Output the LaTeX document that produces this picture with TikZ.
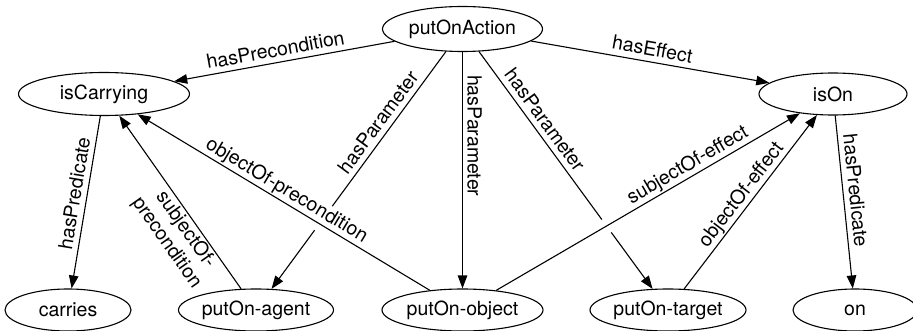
\documentclass[tikz,border=0pt]{standalone}
\usepackage{fontspec}
\setmainfont{TeX Gyre Heros}
\usetikzlibrary{shapes.geometric,arrows.meta,intersections}
% centred text of zero width, so the ellipse size comes from minimum width/height only
\newcommand\conceptname[1]{\makebox[0pt]{#1}}
\begin{document}
\begin{tikzpicture}[x=1pt,y=-1pt,
  every node/.style={font=\fontsize{19.5}{23}\selectfont},
  concept/.style={ellipse, draw, line width=1.1pt, inner sep=0pt, minimum height=42pt},
  rel/.style={draw, line width=1.1pt, -{Triangle[length=13pt,width=9.5pt]}},
  lbl/.style={fill=white, inner sep=0.5pt, text height=15pt, text depth=4pt}]
\useasboundingbox (0,0) rectangle (913,331);

% concepts
\node[concept, minimum width=160pt, minimum height=45pt] (act) at (462.5,29) {\conceptname{putOnAction}};
\node[concept, minimum width=171pt, minimum height=43pt] (carrying) at (104,94) {\conceptname{isCarrying}};
\node[concept, minimum width=148pt] (ison) at (833,94) {\conceptname{isOn}};
\node[concept, minimum width=126pt] (carries) at (68,310) {\conceptname{carries}};
\node[concept, minimum width=155pt] (agent) at (256,310) {\conceptname{putOn-agent}};
\node[concept, minimum width=161pt] (obj) at (462.5,310) {\conceptname{putOn-object}};
\node[concept, minimum width=156pt] (target) at (668,310) {\conceptname{putOn-target}};
\node[concept, minimum width=124pt] (on) at (855,310) {\conceptname{on}};

% relations that pass underneath others
\draw[rel, name path=agentE] (act) -- node[lbl, sloped, above=1pt, pos=.33] {hasParameter} (agent);
\draw[rel, name path=targetE] (act) -- node[lbl, sloped, above=1pt, pos=.32] {hasParameter} (target);

% break the lower relation where another one crosses it
\path[name path=objPreP] (obj) -- (carrying);
\path[name path=subjEffP] (obj) -- (ison);
\fill[white, name intersections={of=agentE and objPreP}] (intersection-1) circle (8pt);
\fill[white, name intersections={of=targetE and subjEffP}] (intersection-1) circle (8pt);

% remaining relations
\draw[rel] (act) -- node[lbl, sloped, above=1pt, pos=.53] {hasPrecondition} (carrying);
\draw[rel] (act) -- node[lbl, sloped, above=1pt, pos=.5] {hasEffect} (ison);
\draw[rel] (act) -- node[lbl, rotate=-90, anchor=south, xshift=1pt, pos=.35] {hasParameter} (obj);
\draw[rel] (carrying) -- node[lbl, sloped, above=1pt, pos=.46] {hasPredicate} (carries);
\draw[rel] (ison) -- node[lbl, sloped, above=1pt, pos=.44] {hasPredicate} (on);
\draw[rel] (obj) -- node[lbl, sloped, above=1pt, pos=.51] {objectOf-precondition} (carrying);
\draw[rel] (agent) -- node[fill=white, inner sep=0.5pt, sloped, below=1pt, pos=.38, align=center] {subjectOf-\\precondition} (carrying);
\draw[rel] (obj) -- node[lbl, sloped, above=1pt, pos=.65] {subjectOf-effect} (ison);
\draw[rel] (target) -- node[lbl, sloped, above=1pt, pos=.5] {objectOf-effect} (ison);
\end{tikzpicture}
\end{document}
